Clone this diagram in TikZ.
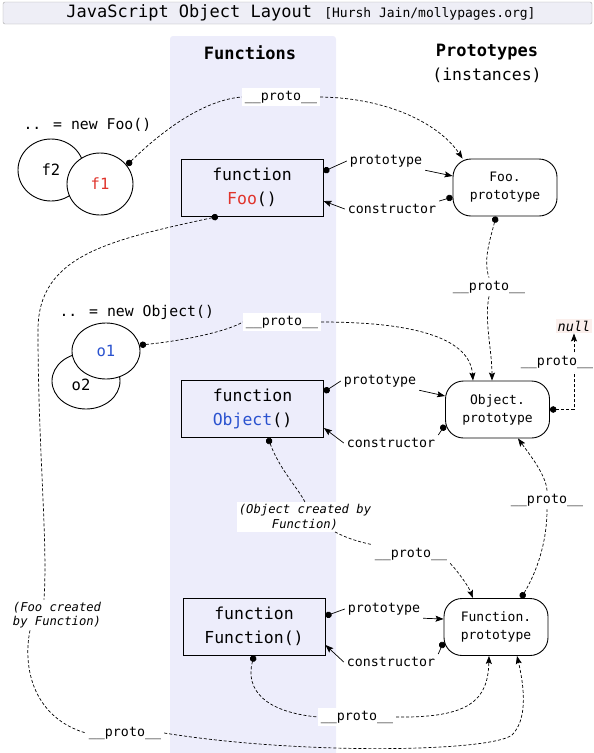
\documentclass[tikz,border=0pt]{standalone}
\usepackage{fontspec}
\setmainfont{DejaVu Sans Mono}
\usetikzlibrary{arrows.meta,shapes.geometric}
\definecolor{colfill}{HTML}{EDEDFB}
\definecolor{barfill}{HTML}{EEEEF6}
\definecolor{foored}{HTML}{E0342C}
\definecolor{objblue}{HTML}{2A52CF}
\definecolor{nullbg}{HTML}{FBEFEC}
\begin{document}
\begin{tikzpicture}[x=1pt, y=-1pt,
    fnbox/.style={draw, line width=0.9pt, minimum width=142pt, minimum height=57pt, align=center, font=\fontsize{16.5}{23.5}\selectfont},
    protobox/.style={draw, line width=0.9pt, rounded corners=18pt, minimum width=104pt, minimum height=57pt, align=center, font=\fontsize{13}{18}\selectfont},
    inst/.style={draw, ellipse, line width=0.9pt, fill=white, inner sep=0pt, font=\fontsize{15.5}{18}\selectfont},
    lbl/.style={fill=white, inner sep=3pt, font=\fontsize{13.3}{16}\selectfont},
    note/.style={fill=white, inner sep=2pt, align=center, font=\fontsize{12.2}{14.5}\selectfont\itshape},
    link/.style={line width=0.7pt},
    protolink/.style={line width=0.7pt, dash pattern=on 3pt off 2pt},
    dotline/.style={arrows={{Circle[length=6.5pt]}-}},
    tipend/.style={arrows={-{Stealth[length=8pt,width=6pt,inset=1.5pt]}}},
    dotarrow/.style={arrows={{Circle[length=6.5pt]}-{Stealth[length=8pt,width=6pt,inset=1.5pt]}}}]
  \useasboundingbox (0,0) rectangle (594,753);
  \fill [colfill, rounded corners=3pt] (170,36) rectangle (336,770);
  \draw [fill=barfill, draw=gray!70, rounded corners=2pt] (3,2) rectangle (592,24);
  \node (title) at (301,13) {\fontsize{17}{20}\selectfont JavaScript Object Layout\hspace{2pt} \fontsize{13}{15}\selectfont[Hursh Jain/mollypages.org]};
  \node [font=\fontsize{17}{20}\selectfont\bfseries] (fnhead) at (250,53) {Functions};
  \node [font=\fontsize{17}{20}\selectfont\bfseries] (prhead) at (487,52) {Prototypes};
  \node [font=\fontsize{16.5}{20}\selectfont] (insthead) at (487,75) {(instances)};

  \node [fnbox] (foobox) at (252,187.5) {function\\\textcolor{foored}{Foo}()};
  \node [fnbox] (objbox) at (252.5,409) {function\\\textcolor{objblue}{Object}()};
  \node [fnbox] (funcbox) at (254,626.5) {function\\Function()};
  \node [protobox] (fooproto) at (505,187.5) {Foo.\\prototype};
  \node [protobox] (objproto) at (497.5,409.5) {Object.\\prototype};
  \node [protobox] (funcproto) at (496,627) {Function.\\prototype};

  \node [anchor=west, font=\fontsize{14.8}{18}\selectfont] (newfoo) at (20,125) {.. = new Foo()};
  \node [inst, minimum width=66pt, minimum height=62pt] (f2) at (51,170) {f2};
  \node [inst, minimum width=66pt, minimum height=62pt] (f1) at (100,184) {\textcolor{foored}{f1}};
  \node [anchor=west, font=\fontsize{14.8}{18}\selectfont] (newobj) at (56,312) {.. = new Object()};
  \node [inst, minimum width=68pt, minimum height=56pt] (o2) at (86,381) {\smash{\raisebox{-9pt}{\makebox[0pt]{\hspace*{-10pt}o2}}}};
  \node [inst, minimum width=68pt, minimum height=56pt] (o1) at (106,351) {\textcolor{objblue}{o1}};
  \node [fill=nullbg, inner sep=2pt, font=\fontsize{13.5}{16}\selectfont\itshape] (nullv) at (574,326) {null};

  \node [lbl] (p1) at (281,97) {\_\_proto\_\_};
  \node [lbl] (p2) at (489,287) {\_\_proto\_\_};
  \node [lbl] (p3) at (282,322) {\_\_proto\_\_};
  \node [lbl] (p5) at (411,554) {\_\_proto\_\_};
  \node [lbl] (p6) at (547,500) {\_\_proto\_\_};
  \node [lbl] (p7) at (125,733) {\_\_proto\_\_};
  \node [lbl] (p8) at (357,717) {\_\_proto\_\_};
  \node [lbl] (ptype1) at (386,161) {prototype};
  \node [lbl] (ctor1) at (392,209) {constructor};
  \node [lbl] (ptype2) at (380,381) {prototype};
  \node [lbl] (ctor2) at (391,443) {constructor};
  \node [lbl] (ptype3) at (384,609) {prototype};
  \node [lbl] (ctor3) at (391,662) {constructor};
  \node [note] (objby) at (305,517) {(Object created by\\Function)};
  \node [note] (fooby) at (57,615) {(Foo created\\by Function)};

  \draw [link, dotline] ([yshift=16pt]foobox.east) -- (ptype1.west);
  \draw [link, tipend] (ptype1.south east) -- ([yshift=11.5pt]fooproto.west);
  \draw [link, dotline] ([yshift=-9.5pt]fooproto.west) -- (ctor1.north east);
  \draw [link, tipend] (ctor1.west) -- ([yshift=-13.5pt]foobox.east);
  \draw [link, dotline] ([yshift=17pt]objbox.east) -- (ptype2.west);
  \draw [link, tipend] (ptype2.south east) -- ([yshift=13.5pt]objproto.west);
  \draw [link, dotline] ([yshift=-15.5pt]objproto.west) -- (ctor2.north east);
  \draw [link, tipend] (ctor2.west) -- ([yshift=-19pt]objbox.east);
  \draw [link, dotline] ([yshift=10.5pt]funcbox.east) -- (ptype3.west);
  \draw [link, tipend] (ptype3.south east) -- ([yshift=8pt]funcproto.west);
  \draw [link, dotline] ([yshift=-15pt]funcproto.west) -- (ctor3.north east);
  \draw [link, tipend] (ctor3.west) -- ([yshift=-18.5pt]funcbox.east);

  \draw [protolink, dotline] (f1.35) .. controls (165,128) and (205,100) .. (p1.west);
  \draw [protolink, tipend] (p1.east) .. controls (390,98) and (440,125) .. ([xshift=10pt]fooproto.north west);
  \draw [protolink, dotline] ([xshift=-9pt]fooproto.south) .. controls (490,240) and (483,260) .. (p2.north);
  \draw [protolink, tipend] (p2.south) .. controls (484,320) and (492,350) .. ([xshift=-5.5pt]objproto.north);
  \draw [protolink, dotline] (o1.10) .. controls (190,340) and (230,330) .. (p3.west);
  \draw [protolink, tipend] (p3.east) .. controls (420,322) and (470,340) .. ([xshift=-24.5pt]objproto.north);
  \draw [protolink, dotarrow] (objproto.east) -| node [lbl, pos=0.81, xshift=-17pt] (p4) {\_\_proto\_\_} (nullv.south);
  \draw [protolink, dotline] ([xshift=15.5pt]objbox.south) .. controls (280,470) and (298,488) .. (objby.north);
  \draw [protolink] ([xshift=30pt]objby.south) .. controls (350,540) and (365,543) .. (p5.north west);
  \draw [protolink, tipend] (p5.south east) .. controls (455,568) and (468,585) .. ([xshift=-23pt]funcproto.north);
  \draw [protolink, dotline] ([xshift=25pt]funcproto.north) .. controls (535,575) and (547,545) .. (p6.south);
  \draw [protolink, tipend] (p6.north) .. controls (546,475) and (530,455) .. ([xshift=20.5pt]objproto.south);
  \draw [protolink, dotline] ([xshift=-34pt]foobox.south) .. controls (110,240) and (38,255) .. (38,330)
    .. controls (38,450) and (48,540) .. ([xshift=-13pt]fooby.north);
  \draw [protolink] ([xshift=-27pt]fooby.south) .. controls (22,670) and (35,718) .. (p7.west);
  \draw [protolink, tipend] (p7.east) .. controls (300,755) and (490,752) .. (512,735)
    .. controls (527,720) and (525,690) .. ([xshift=21pt]funcproto.south);
  \draw [protolink, dotline] (funcbox.south) .. controls (245,690) and (265,712) .. (p8.west);
  \draw [protolink, tipend] (p8.east) .. controls (470,718) and (488,700) .. ([xshift=-7pt]funcproto.south);
\end{tikzpicture}
\end{document}
